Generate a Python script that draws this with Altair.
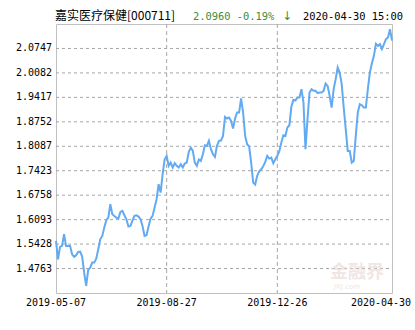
import altair as alt
import pandas as pd

# Net asset value series (evenly spaced trading points)
values = [
    1.5514, 1.5015, 1.5351, 1.5378, 1.5695, 1.5378, 1.5378, 1.5378, 1.5151, 1.5079,
    1.5124, 1.5215, 1.5224, 1.5088, 1.4652, 1.4290, 1.4725, 1.4788, 1.4924, 1.4924,
    1.5033, 1.5287, 1.5559, 1.5650, 1.5876, 1.6076, 1.6149, 1.6511, 1.6239, 1.6194,
    1.6149, 1.6121, 1.6303, 1.6330, 1.6212, 1.6103, 1.5904, 1.5922, 1.6067, 1.6194,
    1.6212, 1.6176, 1.6103, 1.5922, 1.5650, 1.5668, 1.5904, 1.6121, 1.6194, 1.6421,
    1.6647, 1.7055, 1.6829, 1.7327, 1.7735, 1.7826, 1.7554, 1.7645, 1.7509, 1.7627,
    1.7554, 1.7509, 1.7599, 1.7509, 1.7618, 1.7645, 1.7935, 1.8053, 1.7962, 1.7645,
    1.7554, 1.7726, 1.7690, 1.7871, 1.8116, 1.8098, 1.8234, 1.8007, 1.7871, 1.7799,
    1.8098, 1.8234, 1.8243, 1.8370, 1.8887, 1.8842, 1.8869,
    1.8778, 1.8570, 1.8842, 1.9005, 1.9005, 1.9386, 1.9005, 1.8370, 1.8143, 1.8080,
    1.7645, 1.7101, 1.7046, 1.7282, 1.7409, 1.7463, 1.7545, 1.7663, 1.7826, 1.7754,
    1.7781, 1.7627, 1.7735, 1.7826, 1.7953, 1.8189, 1.8388, 1.8370, 1.8597, 1.8660,
    1.9168, 1.9350, 1.9331, 1.9413, 1.9413, 1.9640, 1.9277, 1.8007, 1.8824, 1.9549,
    1.9640, 1.9594, 1.9594, 1.9531, 1.9549, 1.9549, 1.9594, 1.9794, 1.9730, 1.9458,
    1.9141, 1.9640, 1.9912, 2.0229, 2.0093, 1.9776, 1.9141, 1.8552, 1.7962, 1.7962,
    1.7645, 1.7690, 1.8370, 1.9005, 1.9232, 1.9204, 1.9141, 1.9141, 1.9640, 2.0093,
    2.0347, 2.0547, 2.0873, 2.0819, 2.0864, 2.0728, 2.0864, 2.1000, 2.1045, 2.1272,
    2.0960,
]

x_tick_idx = [0, 55, 110, len(values) - 1]
x_tick_labels = ["2019-05-07", "2019-08-27", "2019-12-26", "2020-04-30"]
y_ticks = [1.4763, 1.5428, 1.6093, 1.6758, 1.7423, 1.8087, 1.8752, 1.9417, 2.0082, 2.0747]
y_domain = [1.4098, 2.1412]

title_name = "嘉实医疗保健[000711]"
title_change = "2.0960 -0.19%"
title_arrow = "↓"
title_time = "2020-04-30 15:00"

last_idx = x_tick_idx[-1]

df = pd.DataFrame({"i": list(range(len(values))), "v": values})
hgrid_df = pd.DataFrame({
    "gy": y_ticks,
    "gx0": [0] * len(y_ticks),
    "gx1": [last_idx] * len(y_ticks),
})
ytick_df = pd.DataFrame({"ty": y_ticks, "lab": [f"{t:.4f}" for t in y_ticks]})
xtick_df = pd.DataFrame({"tx": x_tick_idx[:-1], "lab": x_tick_labels[:-1]})
xtick_last_df = pd.DataFrame({"tx": x_tick_idx[-1:], "lab": x_tick_labels[-1:]})

x_scale = alt.Scale(domain=[0, last_idx], nice=False, zero=False)
y_scale = alt.Scale(domain=y_domain, nice=False, zero=False)

line = alt.Chart(df).mark_line(color="#62aaf2", strokeWidth=2, interpolate="linear").encode(
    x=alt.X("i:Q", scale=x_scale, axis=None),
    y=alt.Y("v:Q", scale=y_scale, axis=None),
)

hgrid = alt.Chart(hgrid_df).mark_rule(
    color="#a6a6a6", strokeWidth=1, strokeDash=[3, 3], opacity=1
).encode(
    x=alt.X("gx0:Q", scale=x_scale, axis=None),
    x2="gx1:Q",
    y=alt.Y("gy:Q", scale=y_scale, axis=None),
)

vgrid = alt.Chart(pd.DataFrame({"gx": x_tick_idx[1:-1]})).mark_rule(
    color="#a6a6a6", strokeWidth=1, strokeDash=[4, 3]
).encode(x=alt.X("gx:Q", scale=x_scale, axis=None))

ylabels = alt.Chart(ytick_df).mark_text(
    align="right", baseline="middle", font="DejaVu Sans Mono", fontSize=10, color="#000000"
).encode(y=alt.Y("ty:Q", scale=y_scale, axis=None), x=alt.value(-4), text="lab:N")

xlabels = alt.Chart(xtick_df).mark_text(
    align="center", baseline="top", font="DejaVu Sans Mono", fontSize=10, color="#000000"
).encode(x=alt.X("tx:Q", scale=x_scale, axis=None), y=alt.value(274), text="lab:N")

xlabel_last = alt.Chart(xtick_last_df).mark_text(
    align="center", baseline="top", font="DejaVu Sans Mono", fontSize=10, color="#000000", dx=-11
).encode(x=alt.X("tx:Q", scale=x_scale, axis=None), y=alt.value(274), text="lab:N")

t1 = alt.Chart(pd.DataFrame({"t": [title_name]})).mark_text(
    align="left", baseline="alphabetic", font="Noto Sans CJK SC", fontSize=12, color="#000000"
).encode(x=alt.value(-1), y=alt.value(-4), text="t:N")

t2 = alt.Chart(pd.DataFrame({"t": [title_change]})).mark_text(
    align="left", baseline="alphabetic", font="DejaVu Sans Mono", fontSize=10.4, color="#3c8c3c"
).encode(x=alt.value(137), y=alt.value(-4), text="t:N")

t2b = alt.Chart(pd.DataFrame({"t": [title_arrow]})).mark_text(
    align="left", baseline="alphabetic", font="DejaVu Sans", fontSize=12, color="#3c8c3c"
).encode(x=alt.value(226), y=alt.value(-4), text="t:N")

t3 = alt.Chart(pd.DataFrame({"t": [title_time]})).mark_text(
    align="left", baseline="alphabetic", font="DejaVu Sans Mono", fontSize=10.4, color="#000000"
).encode(x=alt.value(247), y=alt.value(-4), text="t:N")

wm1 = alt.Chart(pd.DataFrame({"t": ["金融界"]})).mark_text(
    align="left", baseline="alphabetic", font="Noto Sans CJK SC", fontSize=18, fontWeight="bold",
    color="#e9d4d4", opacity=0.6
).encode(x=alt.value(274), y=alt.value(254), text="t:N")

wm2 = alt.Chart(pd.DataFrame({"t": ["JRJ.com"]})).mark_text(
    align="left", baseline="alphabetic", font="DejaVu Sans", fontSize=7, fontStyle="italic",
    color="#e9d4d4", opacity=0.6
).encode(x=alt.value(278), y=alt.value(265), text="t:N")

chart = alt.layer(
    hgrid, vgrid, wm1, wm2, line, ylabels, xlabels, xlabel_last, t1, t2, t2b, t3
).properties(
    width=336,
    height=269,
    padding={"left": 56, "top": 24, "right": 23, "bottom": 37},
    autosize="none",
    background="#ffffff",
).configure_view(stroke="#c0c0c0", strokeWidth=1)

chart.save("out.html", embed_options={"renderer": "svg", "actions": False})
